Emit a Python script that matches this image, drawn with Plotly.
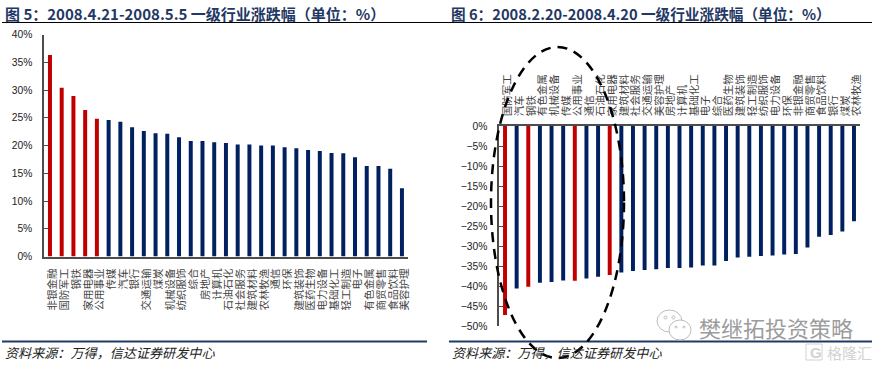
import plotly.graph_objects as go

W, H = 880, 366

left_categories = ["非银金融","国防军工","钢铁","家用电器","公用事业","传媒","汽车","银行","交通运输","煤炭",
                   "机械设备","纺织服饰","综合","房地产","计算机","石油石化","社会服务","建筑材料","农林牧渔","通信",
                   "环保","建筑装饰","医药生物","电力设备","基础化工","轻工制造","电子","有色金属","商贸零售","食品饮料","美容护理"]
left_values = [36.3,30.4,28.9,26.4,24.8,24.6,24.3,23.3,22.6,22.2,
               22.1,21.5,20.8,20.8,20.6,20.45,20.2,20.2,20.0,20.0,
               19.7,19.5,19.2,19.0,18.65,18.6,17.9,16.3,16.3,15.8,12.3]
left_red = ["非银金融","国防军工","钢铁","家用电器","公用事业"]

right_categories = ["国防军工","汽车","钢铁","有色金属","机械设备","传媒","公用事业","通信","石油石化","家用电器",
                    "建筑材料","社会服务","交通运输","美容护理","房地产","计算机","基础化工","电子","综合","医药生物",
                    "建筑装饰","轻工制造","纺织服饰","电力设备","环保","非银金融","商贸零售","食品饮料","银行","煤炭","农林牧渔"]
right_values = [-47.25,-40.6,-40.2,-39.2,-39.0,-38.6,-38.7,-38.1,-37.7,-37.25,
                -36.6,-36.25,-36.0,-35.8,-35.5,-35.5,-35.4,-34.9,-34.9,-33.75,
                -32.9,-32.7,-32.5,-32.4,-32.1,-32.0,-30.4,-27.7,-27.25,-26.4,-23.8]
right_red = ["国防军工","钢铁","公用事业","家用电器"]

left_ticks = [0,5,10,15,20,25,30,35,40]
left_tick_labels = ["0%","5%","10%","15%","20%","25%","30%","35%","40%"]
right_ticks = [0,-5,-10,-15,-20,-25,-30,-35,-40,-45,-50]
right_tick_labels = ["0%","−5%","−10%","−15%","−20%","−25%","−30%","−35%","−40%","−45%","−50%"]

NAVY, RED = "#002060", "#C00000"
AXIS = "#4d4d4d"
CJK = "Noto Sans CJK SC"
TICK = "Liberation Sans"

def px(x): return x / W
def py(y): return 1 - y / H

fig = go.Figure()
fig.add_bar(x=left_categories, y=left_values, xaxis="x", yaxis="y", width=0.34,
            marker_color=[RED if c in left_red else NAVY for c in left_categories], marker_line_width=0)
fig.add_bar(x=right_categories, y=right_values, xaxis="x2", yaxis="y2", width=0.34,
            marker_color=[RED if c in right_red else NAVY for c in right_categories], marker_line_width=0)

cat_font = dict(family=CJK, size=10.5, color="#444444")
y_font = dict(family=TICK, size=10.3, color="#222222")
common_x = dict(type="category", showgrid=False, zeroline=False, showline=True, linecolor=AXIS, linewidth=1.5,
                ticks="", tickangle=-90, tickfont=cat_font, dtick=1, tickmode="linear", ticklabelstandoff=6,
                ticklabelshift=3)
common_y = dict(showgrid=False, zeroline=False, showline=True, linecolor=AXIS, linewidth=1.5, ticks="inside",
                ticklen=4, tickcolor=AXIS, tickwidth=1, tickfont=y_font, tickmode="array", ticklabelstandoff=8)

annotations = []
def text(x, y, s, size, color="#000000", family=CJK, xanchor="left", **kw):
    annotations.append(dict(x=px(x), y=py(y), xref="paper", yref="paper", text=s, showarrow=False,
                            xanchor=xanchor, yanchor="middle", font=dict(family=family, size=size, color=color), **kw))

TITLE = "#1F3864"
text(3, 13, "<b>图 5：2008.4.21-2008.5.5 一级行业涨跌幅（单位：%）</b>", 15, TITLE)
text(449, 13, "<b>图 6：2008.2.20-2008.4.20 一级行业涨跌幅（单位：%）</b>", 14.65, TITLE)
text(3, 352, "<i>资料来源：万得，信达证券研发中心</i>", 13.1, "#222222")
text(450, 352, "<i>资料来源：万得，信达证券研发中心</i>", 13.1, "#222222")
text(697, 327, "樊继拓投资策略", 22, "#9c9c9c")
text(825, 352, "格隆汇", 15, "#d2d2d2")
text(808, 352, "<b>G</b>", 15, "#d2d2d2", family=TICK)

def line(x0, y0, x1, y1, color, width):
    return dict(type="line", xref="paper", yref="paper", x0=px(x0), x1=px(x1), y0=py(y0), y1=py(y1),
                line=dict(color=color, width=width))

def oval(x0, y0, x1, y1, color, width, dash="solid", fill="rgba(0,0,0,0)"):
    return dict(type="circle", xref="paper", yref="paper", x0=px(x0), x1=px(x1), y0=py(y0), y1=py(y1),
                line=dict(color=color, width=width, dash=dash), fillcolor=fill)

shapes = [
    line(2, 22.5, 440, 22.5, "#000000", 1.2),
    line(440, 22.5, 872, 22.5, "#000000", 1.2),
    line(2, 341.5, 427, 341.5, "#1F3864", 2),
    line(449, 341.5, 872, 341.5, "#1F3864", 2),
    oval(491, 47, 624, 358, "#000000", 2.5, "10px,7px"),
    oval(657, 310, 682, 332, "#bdbdbd", 1),
    oval(669, 320, 691, 340, "#bdbdbd", 1, fill="#ffffff"),
    oval(664, 316, 667, 319, "#bdbdbd", 1),
    oval(672, 316, 675, 319, "#bdbdbd", 1),
    oval(675, 326, 677, 328, "#bdbdbd", 1),
    oval(683, 326, 685, 328, "#bdbdbd", 1),
    dict(type="rect", xref="paper", yref="paper", x0=px(806), x1=px(822), y0=py(344), y1=py(360),
         line=dict(color="#d2d2d2", width=1)),
]

fig.update_layout(
    width=W, height=H, margin=dict(l=0, r=0, t=0, b=0, autoexpand=False), paper_bgcolor="#ffffff",
    plot_bgcolor="rgba(0,0,0,0)", showlegend=False, barmode="overlay", font=dict(family=TICK),
    xaxis=dict(domain=[px(44.1), px(407.8)], anchor="y", side="bottom", **common_x),
    yaxis=dict(domain=[py(256.5), py(34.5)], anchor="x", range=[0, 40], tickvals=left_ticks,
               ticktext=left_tick_labels, **common_y),
    xaxis2=dict(domain=[px(499.2), px(859.8)], anchor="y2", side="top", **common_x),
    yaxis2=dict(domain=[py(326), py(126)], anchor="x2", range=[-50, 0], tickvals=right_ticks,
                ticktext=right_tick_labels, **common_y),
    annotations=annotations, shapes=shapes,
)

fig.write_html("out.html", config=dict(displayModeBar=False), post_script="document.body.style.margin='0';")
